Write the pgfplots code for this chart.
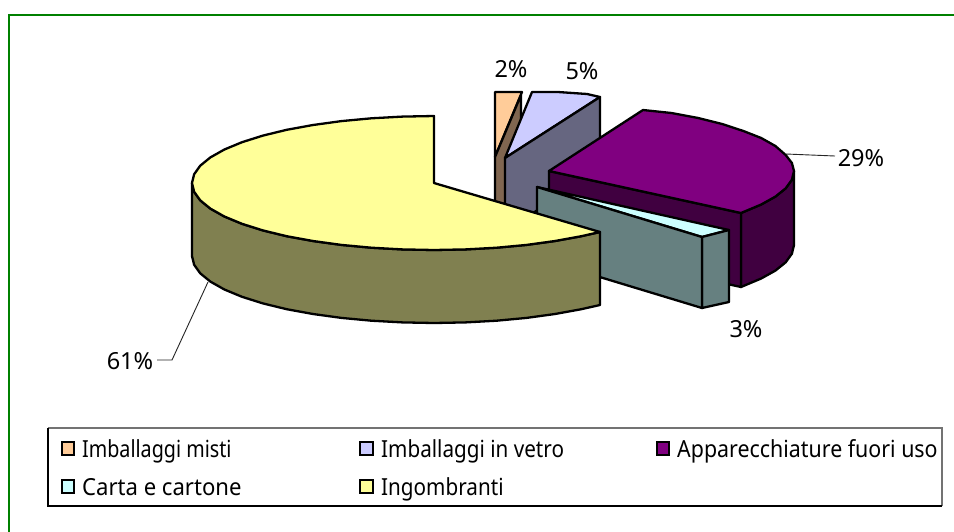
\documentclass[border=0pt]{standalone}
\usepackage{pgfplots}
\pgfplotsset{compat=1.18}
\usepackage{fontspec}
\setmainfont{Noto Sans}
\definecolor{cOr}{HTML}{FFCC99}\definecolor{cOrW}{HTML}{806650}
\definecolor{cBl}{HTML}{CCCCFF}\definecolor{cBlW}{HTML}{666680}
\definecolor{cPu}{HTML}{800080}\definecolor{cPuW}{HTML}{400040}
\definecolor{cCy}{HTML}{CCFFFF}\definecolor{cCyW}{HTML}{668080}
\definecolor{cYe}{HTML}{FFFF99}\definecolor{cYeW}{HTML}{808050}
\definecolor{cFr}{HTML}{008000}
\tikzset{sl/.style={draw=black,line width=2.3pt,line join=round,fill=#1},
 sw/.style={draw=black,line width=2pt,line join=miter,fill=#1},
 lead/.style={draw=black!85,line width=0.9pt},
 tx/.style={font=\fontsize{23.5}{27}\selectfont,text=black,inner sep=0pt}}
\begin{document}
\begin{tikzpicture}
\begin{axis}[scale only axis,width=954pt,height=531pt,xmin=0,xmax=954,ymin=0,ymax=531,y dir=reverse,hide axis]
% page and outer frame
\addplot[fill=white,draw=none] coordinates {(0,0)(954,0)(954,531)(0,531)} --cycle;
\addplot[draw=cFr,line width=2.7pt] coordinates {(9,540)(9,15)(960,15)};
% Imballaggi misti 2%
\addplot[sl=cOr] coordinates {(495,157)(495,92)(522,92)} --cycle;
\addplot[sl=cOrW] coordinates {(495,157)(521,95)(521,168)(495,230)} --cycle;
% Imballaggi in vetro 5%
\addplot[sl=cBl] coordinates {(505,158)(532,92)(558,92)(587,94)(600,97)} --cycle;
\addplot[sl=cBlW] coordinates {(505,158)(600,97)(600,170)(505,231)} --cycle;
% Apparecchiature fuori uso 29%
\addplot[sl=cPuW] coordinates {(794,171)(791.9,179.7)(785.7,188.3)(775.4,196.6)(761.2,204.5)(741,213)(741,287)(761.2,278.5)(775.4,270.6)(785.7,262.3)(791.9,253.7)(794,245)} --cycle;
\addplot[sl=cPuW] coordinates {(549,171)(741,213)(741,287)(549,245)} --cycle;
\addplot[sl=cPu] coordinates {(549,171)(643,110)(671.5,113)(698.2,118)(722.2,124)(743.4,131)(761.2,138)(775.4,146)(785.7,155)(791.9,163)(794,171)(791.9,179.7)(785.7,188.3)(775.4,196.6)(761.2,204.5)(741,213)} --cycle;
% Carta e cartone 3%
\addplot[sl=cCy] coordinates {(537,187)(729,230)(702,237)} --cycle;
\addplot[sl=cCyW] coordinates {(702,237)(729,230)(729,302)(702,308)} --cycle;
\addplot[sl=cCyW] coordinates {(537,187)(702,237)(702,308)(537,258)} --cycle;
% Ingombranti 61%
\addplot[sl=cYeW] coordinates {(192,183)(194.1,191.7)(200.2,200.3)(210.4,208.6)(224.4,216.5)(242,223.8)(262.9,230.4)(286.7,236.2)(313,241)(341.4,244.9)(371.4,247.7)(402.4,249.4)(434,250)(465.6,249.4)(496.6,247.7)(526.6,244.9)(555,241)(581.3,236.2)(600,232)(600,305)(581.3,309.2)(555,314)(526.6,317.9)(496.6,320.7)(465.6,322.4)(434,323)(402.4,322.4)(371.4,320.7)(341.4,317.9)(313,314)(286.7,309.2)(262.9,303.4)(242,296.8)(224.4,289.5)(210.4,281.6)(200.2,273.3)(194.1,264.7)(192,256)} --cycle;
\addplot[sl=cYe] coordinates {(434,183)(434,116)(402.4,116.6)(371.4,118.3)(341.4,121.1)(313,125)(286.7,129.8)(262.9,135.6)(242,142.2)(224.4,149.5)(210.4,157.4)(200.2,165.7)(194.1,174.3)(192,183)(194.1,191.7)(200.2,200.3)(210.4,208.6)(224.4,216.5)(242,223.8)(262.9,230.4)(286.7,236.2)(313,241)(341.4,244.9)(371.4,247.7)(402.4,249.4)(434,250)(465.6,249.4)(496.6,247.7)(526.6,244.9)(555,241)(581.3,236.2)(600,232)} --cycle;
% leader lines
\addplot[lead] coordinates {(786,154)(835,156)};
\addplot[lead] coordinates {(208,282)(172,360)(157,360)};
% legend frame
\addplot[fill=white,draw=none] coordinates {(48,428)(942,428)(942,506)(48,506)} --cycle;
\addplot[draw=black!55,line width=1.2pt] coordinates {(48,428)(942,428)(942,506)};
\addplot[draw=black,line width=1.1pt] coordinates {(942,506)(48,506)(48,428)};
% legend keys
\addplot[sw=cOr] coordinates {(61.5,441.5)(74,441.5)(74,454.5)(61.5,454.5)} --cycle;
\addplot[sw=cBl] coordinates {(360,441.5)(372.5,441.5)(372.5,454.5)(360,454.5)} --cycle;
\addplot[sw=cPu] coordinates {(656.5,441.5)(669,441.5)(669,454.5)(656.5,454.5)} --cycle;
\addplot[sw=cCy] coordinates {(61.5,479.5)(74,479.5)(74,492.5)(61.5,492.5)} --cycle;
\addplot[sw=cYe] coordinates {(360,479.5)(372.5,479.5)(372.5,492.5)(360,492.5)} --cycle;
% texts
\node[tx,anchor=base west] at (82,457) {\scalebox{.84}[1]{Imballaggi misti}};
\node[tx,anchor=base west] at (381,457) {\scalebox{.88}[1]{Imballaggi in vetro}};
\node[tx,anchor=base west] at (677,457) {\scalebox{.91}[1]{Apparecchiature fuori uso}};
\node[tx,anchor=base west] at (82,495) {\scalebox{.94}[1]{Carta e cartone}};
\node[tx,anchor=base west] at (381,495) {\scalebox{.88}[1]{Ingombranti}};
\node[tx,anchor=base] at (511,77) {2\%};
\node[tx,anchor=base] at (582,79) {5\%};
\node[tx,anchor=base] at (861,166) {29\%};
\node[tx,anchor=base] at (746,337) {3\%};
\node[tx,anchor=base] at (130,369) {61\%};
\end{axis}
\end{tikzpicture}
\end{document}
